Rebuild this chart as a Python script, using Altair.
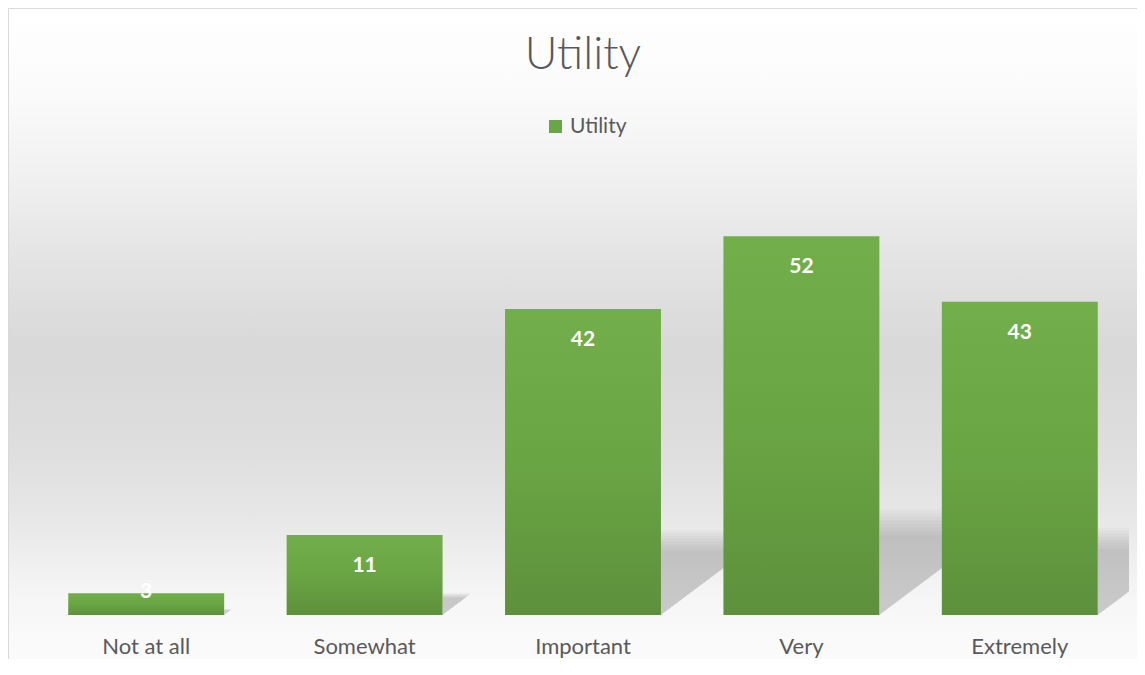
import altair as alt
import pandas as pd

# ---- data ----
categories = ["Not at all", "Somewhat", "Important", "Very", "Extremely"]
values = [3, 11, 42, 52, 43]
series_name = "Utility"
chart_title = "Utility"

# ---- layout / style ----
W, H = 1092, 437
PAD = {"left": 29, "top": 170, "right": 8, "bottom": 44}
YMAX = 60
TXT = "#595959"
FONT = "Lato"

df = pd.DataFrame({
    "cat": categories,
    "value": values,
    "idx": list(range(len(categories))),
    "series": [series_name] * len(categories),
})

# two corner rows per bar for the shadow shapes
shadow_df = pd.DataFrame({
    "cat": [c for c in categories for _ in (0, 1)],
    "value": [v for v in values for _ in (0, 1)],
    "idx": [i for i in range(len(categories)) for _ in (0, 1)],
    "t": [t for _ in categories for t in (0, 1)],
})

x_band = alt.Scale(domain=categories, paddingInner=0.286, paddingOuter=0.143)
y_scale = alt.Scale(domain=[0, YMAX], nice=False)

# background gradient (page y -> colour), mapped onto the background rect
bg_top, bg_bot = 8.5, 690.0
bg_stops_px = [(8, "#ffffff"), (100, "#fafafa"), (180, "#f0f0f0"), (250, "#e5e5e5"),
               (350, "#d8d8d8"), (450, "#dedede"), (510, "#e6e6e6"), (560, "#efefef"),
               (600, "#f6f6f6"), (640, "#fafafa"), (690, "#fcfcfc")]
bg_grad = alt.LinearGradient(
    gradient="linear", x1=0, x2=0, y1=0, y2=1,
    stops=[alt.GradientStop(color=c, offset=max(0.0, min(1.0, (py - bg_top) / (bg_bot - bg_top))))
           for py, c in bg_stops_px],
)
background = alt.Chart(pd.DataFrame({"k": [0]})).mark_rect(
    color=bg_grad, stroke="#d9d9d9", strokeWidth=1
).encode(
    x=alt.value(-PAD["left"] + 0.5), x2=alt.value(W + PAD["right"] + 30),
    y=alt.value(-PAD["top"] + 0.5), y2=alt.value(H + PAD["bottom"] + 31),
)

# soft perspective shadows to the right of each bar (several faint layers = blur)
K_H = 0.24
K_D = 0.01067
HALF_BAR = 0.357


def shadow(sh, sd, op):
    return alt.Chart(shadow_df).transform_calculate(
        sx=f"datum.idx + 0.5 + {HALF_BAR} + datum.t * {K_D * sd} * datum.value",
        ylo=f"datum.t * {K_H * sh} * datum.value",
        yhi=f"{K_H * sh} * datum.value",
    ).mark_area(color="#000000", opacity=op, clip=True).encode(
        x=alt.X("sx:Q", scale=alt.Scale(domain=[0, len(categories)], nice=False, zero=False), axis=None),
        y=alt.Y("ylo:Q", scale=y_scale, axis=None),
        y2="yhi:Q",
        detail="cat:N",
    )


blur_steps = [1.16, 1.12, 1.08, 1.04, 1.0, 0.96, 0.92, 0.88]
shadows = [shadow(s, s, 0.025) for s in blur_steps]

bar_grad = alt.LinearGradient(
    gradient="linear", x1=0, x2=0, y1=0, y2=1,
    stops=[alt.GradientStop(color="#72ae4a", offset=0),
           alt.GradientStop(color="#6aa544", offset=0.5),
           alt.GradientStop(color="#5d903c", offset=1)],
)

bars = alt.Chart(df).mark_bar(color=bar_grad).encode(
    x=alt.X("cat:N", scale=x_band, sort=categories,
            axis=alt.Axis(title=None, labelAngle=0, domain=False, ticks=False, tickSize=0,
                          grid=False, labelPadding=21, labelFont=FONT, labelFontSize=22,
                          labelColor=TXT, zindex=2)),
    y=alt.Y("value:Q", scale=y_scale, axis=None),
)

labels = alt.Chart(df).transform_calculate(
    ly="max(datum.value, 7.4)"
).mark_text(
    font=FONT, fontWeight="bold", fontSize=21, color="white", baseline="middle", dy=31
).encode(
    x=alt.X("cat:N", scale=x_band, sort=categories, axis=None),
    y=alt.Y("ly:Q", scale=y_scale, axis=None),
    text="value:Q",
)

legend_layer = alt.Chart(df).mark_square(opacity=0, size=1).encode(
    x=alt.X("cat:N", scale=x_band, sort=categories, axis=None),
    y=alt.Y("value:Q", scale=y_scale, axis=None),
    color=alt.Color("series:N", scale=alt.Scale(domain=[series_name], range=["#6aa645"]),
                    legend=alt.Legend(title=None, orient="none", legendX=508, legendY=-62,
                                      symbolType="square", symbolSize=169, symbolOpacity=1,
                                      symbolStrokeWidth=0, labelFont=FONT, labelFontSize=21,
                                      labelColor=TXT, labelOffset=4, padding=0, zindex=2)),
)

chart = alt.layer(background, *shadows, bars, labels, legend_layer).resolve_scale(
    x="independent"
).properties(
    width=W, height=H,
    padding=PAD,
    autosize=alt.AutoSizeParams(type="none"),
    title=alt.Title(chart_title, font=FONT, fontSize=45, fontWeight=300, color=TXT,
                    anchor="middle", frame="group", baseline="alphabetic", offset=-105.5,
                    zindex=2),
).configure_view(stroke=None)

chart.save("out.html", embed_options={"renderer": "svg", "actions": False})
